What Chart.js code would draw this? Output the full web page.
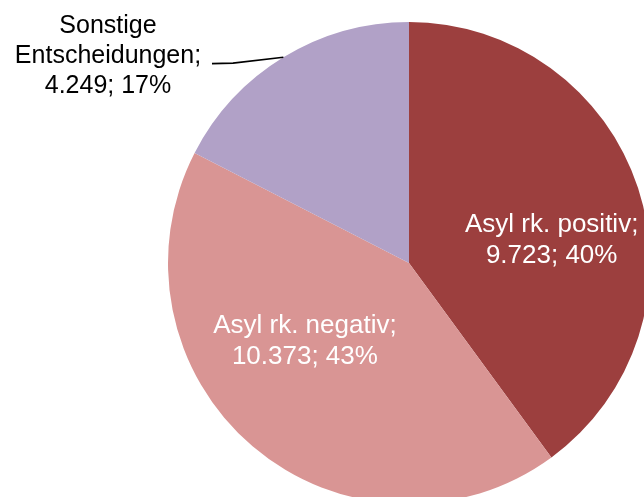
<!DOCTYPE html>
<html>
<head>
<meta charset="utf-8">
<script src="https://cdn.jsdelivr.net/npm/chart.js@4"></script>
<style>
  html, body { margin: 0; padding: 0; background: #fff; overflow: hidden; }
  #wrap { position: relative; width: 644px; height: 497px; overflow: hidden; }
  #pie { position: absolute; left: 0; top: 0; }
</style>
</head>
<body>
<div id="wrap"><canvas id="pie" width="818" height="526"></canvas></div>
<script>
const categories = ['Asyl rk. positiv', 'Asyl rk. negativ', 'Sonstige Entscheidungen'];
const values = [9723, 10373, 4249];
const percents = [40, 43, 17];
const colors = ['#9C3F3E', '#D99594', '#B1A1C7'];
const textColors = ['#FFFFFF', '#FFFFFF', '#000000'];

// label text lines per slice
const labelLines = [
  ['Asyl rk. positiv;', '9.723; 40%'],
  ['Asyl rk. negativ;', '10.373; 43%'],
  ['Sonstige', 'Entscheidungen;', '4.249; 17%']
];
// first baseline of each label, in units of the pie radius from the centre
const labelAnchor = [
  { dx: 0.592, dy: -0.129, size: 26, lh: 31 },
  { dx: -0.432, dy: 0.29, size: 26, lh: 31 },
  { dx: -1.249, dy: -0.954, size: 25, lh: 30 }
];

const pieLabels = {
  id: 'pieLabels',
  afterDraw(chart) {
    const ctx = chart.ctx;
    const arcs = chart.getDatasetMeta(0).data;
    ctx.save();
    ctx.textAlign = 'center';
    ctx.textBaseline = 'alphabetic';
    arcs.forEach((arc, i) => {
      const r = arc.outerRadius;
      const p = labelAnchor[i];
      const x = arc.x + p.dx * r;
      const y = arc.y + p.dy * r;
      ctx.font = p.size + 'px "Liberation Sans", Arial, sans-serif';
      ctx.fillStyle = textColors[i];
      labelLines[i].forEach((line, j) => ctx.fillText(line, x, y + j * p.lh));
    });

    // leader line for the outside label, to the middle of its slice edge
    const a = arcs[2];
    const mid = (a.startAngle + a.endAngle) / 2;
    const ex = a.x + Math.cos(mid) * a.outerRadius;
    const ey = a.y + Math.sin(mid) * a.outerRadius;
    const lx = a.x + labelAnchor[2].dx * a.outerRadius + 104;
    const ly = a.y + labelAnchor[2].dy * a.outerRadius + 30.5;
    ctx.strokeStyle = '#000';
    ctx.lineWidth = 1.6;
    ctx.beginPath();
    ctx.moveTo(lx, ly);
    ctx.lineTo(lx + 21, ly - 0.5);
    ctx.lineTo(ex, ey);
    ctx.stroke();
    ctx.restore();
  }
};

new Chart(document.getElementById('pie'), {
  type: 'pie',
  data: {
    labels: categories,
    datasets: [{
      data: values,
      backgroundColor: colors,
      borderWidth: 0
    }]
  },
  options: {
    responsive: false,
    animation: false,
    layout: { padding: { left: 168, right: 168, top: 22, bottom: 22 } },
    plugins: {
      legend: { display: false },
      tooltip: { enabled: false }
    }
  },
  plugins: [pieLabels]
});
</script>
</body>
</html>
